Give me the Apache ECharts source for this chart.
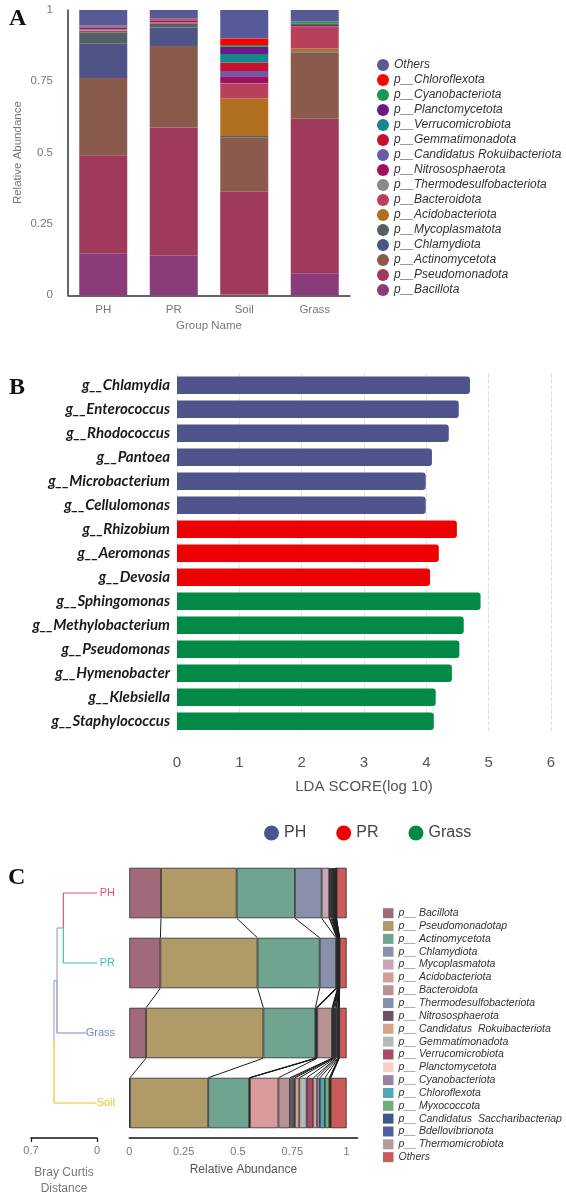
<!DOCTYPE html>
<html>
<head>
<meta charset="utf-8">
<title>Phylum composition, LEfSe and clustering</title>
<script src="https://cdn.jsdelivr.net/npm/echarts@6.0.0/dist/echarts.min.js"></script>
<style>
    html, body { margin: 0; padding: 0; background: #fff; }
    #chart_show { width: 566px; height: 1201px; }
</style>
</head>
<body>
<div id="chart_show"></div>
<script>
// ---- A: relative abundance per group (bottom -> top of the stack) ----
var groupsA = ['PH', 'PR', 'Soil', 'Grass'];
var phylaA = ['p__Bacillota', 'p__Pseudomonadota', 'p__Actinomycetota', 'p__Chlamydiota',
    'p__Mycoplasmatota', 'p__Acidobacteriota', 'p__Bacteroidota', 'p__Thermodesulfobacteriota',
    'p__Nitrososphaerota', 'p__Candidatus Rokuibacteriota', 'p__Gemmatimonadota',
    'p__Verrucomicrobiota', 'p__Planctomycetota', 'p__Cyanobacteriota', 'p__Chloroflexota', 'Others'];
var abundA_PH = [0.147, 0.344, 0.271, 0.120, 0.040, 0.001, 0.004, 0.006, 0.006, 0.001, 0.002, 0.001, 0.001, 0.001, 0.001, 0.054];
var abundA_PR = [0.139, 0.449, 0.286, 0.065, 0.012, 0.001, 0.004, 0.001, 0.006, 0.001, 0.004, 0.001, 0.001, 0.001, 0.001, 0.028];
var abundA_Soil = [0.003, 0.360, 0.190, 0.002, 0.003, 0.132, 0.051, 0.002, 0.025, 0.018, 0.030, 0.030, 0.025, 0.006, 0.023, 0.100];
var abundA_Grass = [0.077, 0.542, 0.231, 0.002, 0.003, 0.010, 0.072, 0.001, 0.004, 0.001, 0.004, 0.004, 0.001, 0.007, 0.001, 0.040];

// ---- B: LDA scores ----
var generaB = ['g__Chlamydia', 'g__Enterococcus', 'g__Rhodococcus', 'g__Pantoea', 'g__Microbacterium',
    'g__Cellulomonas', 'g__Rhizobium', 'g__Aeromonas', 'g__Devosia', 'g__Sphingomonas',
    'g__Methylobacterium', 'g__Pseudomonas', 'g__Hymenobacter', 'g__Klebsiella', 'g__Staphylococcus'];
var ldaB = [4.70, 4.52, 4.36, 4.09, 3.99, 3.99, 4.49, 4.20, 4.06, 4.87, 4.60, 4.53, 4.41, 4.15, 4.12];
var enrichedInB = ['PH', 'PH', 'PH', 'PH', 'PH', 'PH', 'PR', 'PR', 'PR',
    'Grass', 'Grass', 'Grass', 'Grass', 'Grass', 'Grass'];
var groupsB = ['PH', 'PR', 'Grass'];

// ---- C: relative abundance next to the clustering ----
var groupsC = ['PH', 'PR', 'Grass', 'Soil'];
var phylaC = ['p__ Bacillota', 'p__ Pseudomonadotap', 'p__ Actinomycetota', 'p__ Chlamydiota',
    'p__ Mycoplasmatota', 'p__ Acidobacteriota', 'p__ Bacteroidota', 'p__ Thermodesulfobacteriota',
    'p__ Nitrososphaerota', 'p__ Candidatus  Rokuibacteriota', 'p__ Gemmatimonadota',
    'p__ Verrucomicrobiota', 'p__ Planctomycetota', 'p__ Cyanobacteriota', 'p__ Chloroflexota',
    'p__ Myxococcota', 'p__ Candidatus  Saccharibacteriap', 'p__ Bdellovibrionota',
    'p__ Thermomicrobiota', 'Others'];
var abundC_PH = [0.146, 0.348, 0.268, 0.123, 0.035, 0.002, 0.006, 0.004, 0.004, 0.002, 0.003, 0.003, 0.002, 0.002, 0.002, 0.001, 0.001, 0.001, 0.001, 0.046];
var abundC_PR = [0.143, 0.447, 0.286, 0.075, 0.004, 0.001, 0.002, 0.001, 0.002, 0.001, 0.001, 0.001, 0.001, 0.0005, 0.0005, 0.0005, 0.0005, 0.0005, 0.0005, 0.032];
var abundC_Grass = [0.077, 0.540, 0.239, 0.003, 0.003, 0.003, 0.068, 0.002, 0.004, 0.002, 0.005, 0.005, 0.002, 0.006, 0.002, 0.002, 0.001, 0.001, 0.001, 0.034];
var abundC_Soil = [0.003, 0.360, 0.189, 0.001, 0.002, 0.131, 0.053, 0.011, 0.012, 0.020, 0.034, 0.031, 0.015, 0.015, 0.023, 0.020, 0.004, 0.002, 0.001, 0.073];

// ---- C: Bray Curtis dendrogram (leaves top -> bottom, merges like a linkage table) ----
var leavesD = ['PH', 'PR', 'Grass', 'Soil'];
var linkLeftD = [0, 4, 5];
var linkRightD = [1, 2, 3];
var linkHeightD = [0.357, 0.424, 0.456];

// colours
var colorsA = ['#8b3a7a', '#a03a5c', '#8a5a4c', '#4f5486', '#556066', '#b07020', '#b8405a', '#8a8a8a',
    '#a0105e', '#6a5aa8', '#c8102e', '#14878a', '#6a1a86', '#1a9850', '#ff0000', '#565a96'];
var colorsB = { PH: '#4f538b', PR: '#ee0000', Grass: '#008a45' };
var colorsC = ['#a06a78', '#b09a68', '#6fa590', '#8890ab', '#c9a5b5', '#d89a9a', '#b89393', '#8290ab',
    '#6a5068', '#d4a488', '#b4b8b8', '#a84a68', '#f8d0c4', '#9a80a8', '#50a8b0', '#70b078',
    '#3a5a8a', '#5060a0', '#b89898', '#cc5a5a'];
var leafColorsD = ['#e8506e', '#40c0b0', '#7088d0', '#f0c030'];

(function () {
    var Figure = {
        init: function () {
            var myChart = echarts.init(document.getElementById('chart_show'));
            myChart.setOption(this.formatChart());
        },
        seriesA: function () {
            var rows = [abundA_PH, abundA_PR, abundA_Soil, abundA_Grass];
            return phylaA.map(function (name, k) {
                return {
                    name: name, type: 'bar', stack: 'a', xAxisIndex: 0, yAxisIndex: 0,
                    barWidth: 48,
                    itemStyle: { color: colorsA[k] },
                    data: rows.map(function (r) { return r[k]; })
                };
            });
        },
        seriesB: function () {
            return groupsB.map(function (g) {
                return {
                    name: g, type: 'bar', stack: 'lda', xAxisIndex: 1, yAxisIndex: 1,
                    barWidth: 17.5,
                    itemStyle: { color: colorsB[g], borderRadius: [0, 3, 3, 0] },
                    data: ldaB.map(function (v, i) { return enrichedInB[i] === g ? v : '-'; })
                };
            });
        },
        seriesC: function () {
            var rows = [abundC_PH, abundC_PR, abundC_Grass, abundC_Soil];
            var list = phylaC.map(function (name, k) {
                return {
                    name: 'C:' + name, type: 'bar', stack: 'c', xAxisIndex: 2, yAxisIndex: 2,
                    barWidth: '72%',
                    itemStyle: { color: colorsC[k], borderColor: '#2a2a2a', borderWidth: 0.8 },
                    data: rows.map(function (r) { return r[k]; })
                };
            });

            // connectors between the same boundary of neighbouring bars
            var links = [];
            for (var i = 0; i < rows.length - 1; i++) {
                var c1 = 0, c2 = 0;
                for (var k = 0; k < phylaC.length - 1; k++) {
                    c1 += rows[i][k];
                    c2 += rows[i + 1][k];
                    links.push([c1, c2, i]);
                }
            }
            list.push({
                type: 'custom', xAxisIndex: 2, yAxisIndex: 2, silent: true,
                encode: { x: [0, 1], y: 2 },
                data: links,
                renderItem: function (params, api) {
                    var a = api.coord([api.value(0), api.value(2)]);
                    var b = api.coord([api.value(1), api.value(2) + 1]);
                    var half = api.size([0, 1])[1] * 0.36;
                    return {
                        type: 'line',
                        shape: { x1: a[0], y1: a[1] + half, x2: b[0], y2: b[1] - half },
                        style: { stroke: '#1a1a1a', lineWidth: 1 }
                    };
                }
            });
            return list;
        },
        seriesD: function () {
            var nodeX = leavesD.map(function () { return 0; });
            var nodeY = leavesD.map(function (n, i) { return i; });
            var nodeColor = leafColorsD.slice();
            var segs = [];

            linkHeightD.forEach(function (h, m) {
                var l = linkLeftD[m], r = linkRightD[m];
                var y = (nodeY[l] + nodeY[r]) / 2;
                [l, r].forEach(function (c) {
                    segs.push([nodeX[c], nodeY[c], h, nodeY[c], nodeColor[c]]);
                    segs.push([h, nodeY[c], h, y, nodeColor[c]]);
                });
                nodeX.push(h);
                nodeY.push(y);
                nodeColor.push('#a9a9a9');
            });

            return [{
                type: 'custom', xAxisIndex: 3, yAxisIndex: 3, silent: true,
                encode: { x: [0, 2], y: [1, 3] },
                data: segs.map(function (s) { return s.slice(0, 4); }),
                renderItem: function (params, api) {
                    var p1 = api.coord([api.value(0), api.value(1)]);
                    var p2 = api.coord([api.value(2), api.value(3)]);
                    return {
                        type: 'line',
                        shape: { x1: p1[0], y1: p1[1], x2: p2[0], y2: p2[1] },
                        style: { stroke: segs[params.dataIndex][4], lineWidth: 1.2 }
                    };
                }
            }, {
                type: 'custom', xAxisIndex: 3, yAxisIndex: 3, silent: true, z: 5,
                encode: { x: 0, y: 1 },
                data: leavesD.map(function (n, i) { return [0, i]; }),
                renderItem: function (params, api) {
                    var p = api.coord([0, api.value(1)]);
                    return {
                        type: 'text',
                        x: p[0] + 18, y: p[1],
                        style: {
                            text: leavesD[params.dataIndex],
                            fill: leafColorsD[params.dataIndex],
                            font: '11px "Liberation Sans", Arial, sans-serif',
                            align: 'right', verticalAlign: 'middle',
                            backgroundColor: '#fff'
                        }
                    };
                }
            }];
        },
        formatChart: function () {
            var grey = '#777';
            var sans = '"Liberation Sans", Arial, sans-serif';
            var panelTitle = function (t, left, top) {
                return {
                    text: t, left: left, top: top,
                    textStyle: { fontFamily: '"Liberation Serif", serif', fontWeight: 'bold', fontSize: 24, color: '#111' }
                };
            };

            return {
                animation: false,
                textStyle: { fontFamily: sans },
                title: [panelTitle('A', 4, 2), panelTitle('B', 4, 371), panelTitle('C', 3, 861)],
                legend: [
                    {
                        data: phylaA.slice().reverse(),
                        orient: 'vertical', left: 372, top: 54,
                        icon: 'circle', itemWidth: 12, itemHeight: 12, itemGap: 3,
                        selectedMode: false,
                        textStyle: { fontSize: 12, fontStyle: 'italic', color: '#333', lineHeight: 12 }
                    },
                    {
                        data: groupsB,
                        orient: 'horizontal', left: 259, top: 820,
                        icon: 'circle', itemWidth: 15, itemHeight: 15, itemGap: 30,
                        selectedMode: false,
                        textStyle: { fontSize: 16, color: '#444', lineHeight: 16 }
                    },
                    {
                        data: phylaC.map(function (n) { return 'C:' + n; }),
                        orient: 'vertical', left: 378, top: 902.7,
                        icon: 'rect', itemWidth: 10.5, itemHeight: 10, itemGap: 1.84,
                        selectedMode: false,
                        itemStyle: { borderWidth: 0 },
                        formatter: function (name) { return name.slice(2); },
                        textStyle: { fontSize: 10.5, fontStyle: 'italic', color: '#333', lineHeight: 10 }
                    }
                ],
                grid: [
                    { left: 68, top: 10, width: 282, height: 285.3 },
                    { left: 177, top: 373.3, width: 374, height: 360 },
                    { left: 129.3, top: 858, width: 228.2, height: 280 },
                    { left: 31, top: 858, width: 66, height: 280 }
                ],
                xAxis: [
                    {
                        gridIndex: 0, type: 'category', data: groupsA,
                        axisLine: { lineStyle: { color: '#333', width: 1.5 } },
                        axisTick: { show: false },
                        axisLabel: { color: grey, fontSize: 11.5, margin: 9 },
                        name: 'Group Name', nameLocation: 'middle', nameGap: 25,
                        nameTextStyle: { color: grey, fontSize: 11.5 }
                    },
                    {
                        gridIndex: 1, type: 'value', min: 0, max: 6, interval: 1,
                        axisLine: { show: false }, axisTick: { show: false },
                        splitLine: { lineStyle: { color: '#dcdcdc', type: 'dashed' } },
                        axisLabel: { color: '#555', fontSize: 15, margin: 22 },
                        name: 'LDA SCORE(log 10)', nameLocation: 'middle', nameGap: 46,
                        nameTextStyle: { color: '#555', fontSize: 15 }
                    },
                    {
                        gridIndex: 2, type: 'value', min: 0, max: 1.05, interval: 0.25,
                        axisLine: { show: true, lineStyle: { color: '#111', width: 1.5 } },
                        axisTick: { show: false }, splitLine: { show: false },
                        axisLabel: {
                            color: grey, fontSize: 11, margin: 8,
                            formatter: function (v) { return v > 1 ? '' : String(v); }
                        },
                        name: 'Relative Abundance', nameLocation: 'middle', nameGap: 26,
                        nameTextStyle: { color: '#555', fontSize: 12 }
                    },
                    {
                        gridIndex: 3, type: 'value', inverse: true, min: 0, max: 0.7, interval: 0.7,
                        axisLine: { show: true, onZero: false, lineStyle: { color: '#111', width: 1.5 } },
                        axisTick: { show: true, length: 4, lineStyle: { color: '#111', width: 1.2 } },
                        splitLine: { show: false },
                        axisLabel: { color: grey, fontSize: 11, margin: 7 },
                        name: 'Bray Curtis\nDistance', nameLocation: 'middle', nameGap: 27,
                        nameTextStyle: { color: grey, fontSize: 12, lineHeight: 16 }
                    }
                ],
                yAxis: [
                    {
                        gridIndex: 0, type: 'value', min: 0, max: 1, interval: 0.25,
                        axisLine: { show: true, lineStyle: { color: '#333', width: 1.5 } },
                        axisTick: { show: false }, splitLine: { show: false },
                        axisLabel: { color: grey, fontSize: 11.5, margin: 15 },
                        name: 'Relative Abundance', nameLocation: 'middle', nameGap: 44,
                        nameTextStyle: { color: grey, fontSize: 11.5 }
                    },
                    {
                        gridIndex: 1, type: 'category', data: generaB, inverse: true,
                        axisLine: { show: false }, axisTick: { show: false },
                        axisLabel: {
                            color: '#1a1a1a', fontSize: 15, fontWeight: 'bold', fontStyle: 'italic',
                            fontFamily: 'Lato, "Open Sans", sans-serif', margin: 7
                        }
                    },
                    {
                        gridIndex: 2, type: 'category', data: groupsC, inverse: true, show: false
                    },
                    {
                        gridIndex: 3, type: 'value', min: -0.5, max: 3.5, inverse: true, show: false
                    }
                ],
                series: [].concat(this.seriesA(), this.seriesB(), this.seriesC(), this.seriesD())
            };
        }
    };

    Figure.init();
})();
</script>
</body>
</html>
